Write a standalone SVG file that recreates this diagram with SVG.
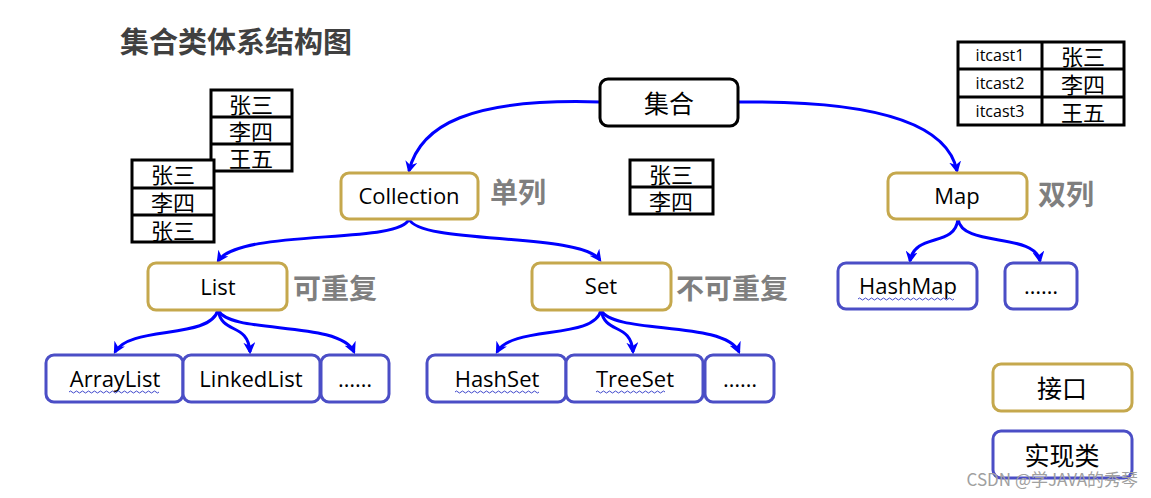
<svg xmlns="http://www.w3.org/2000/svg" width="1151" height="498" viewBox="0 0 1151 498">
<defs>
<marker id="ah" viewBox="0 0 10 10" refX="8" refY="5" markerWidth="4" markerHeight="4" orient="auto" markerUnits="strokeWidth">
<path d="M0,0 L10,5 L0,10 L3,5 Z" fill="#0000FF"/>
</marker>
</defs>
<style>
.cn{font-family:"Noto Sans CJK SC","Noto Sans",sans-serif}
.lat{font-family:"Open Sans","Noto Sans CJK SC",sans-serif}
.tbl rect{fill:#fff;stroke:#000;stroke-width:3}
.tbl line{stroke:#000;stroke-width:3}
.tt{font-family:"Noto Sans CJK SC",sans-serif;font-size:22px;fill:#000;text-anchor:middle;dominant-baseline:central}
.it{font-family:"Open Sans",sans-serif;font-size:16px;fill:#000;text-anchor:middle;dominant-baseline:central}
.root{fill:#fff;stroke:#000;stroke-width:3}
.itf{fill:#fff;stroke:#C5A84D;stroke-width:3}
.imp{fill:#fff;stroke:#4B4EC6;stroke-width:3}
.lbl{font-size:22px;fill:#000;text-anchor:middle;dominant-baseline:central}
.cl{font-size:25px}
.note{font-family:"Noto Sans CJK SC",sans-serif;font-weight:bold;font-size:28px;fill:#7F7F7F;dominant-baseline:central}
.edge{fill:none;stroke:#0000FF;stroke-width:3;marker-end:url(#ah)}
.wavy{fill:none;stroke:#3F48CC;stroke-width:1}
</style>
<rect width="1151" height="498" fill="#fff"/>
<text x="120" y="40" class="cn" font-size="29" font-weight="bold" fill="#404040" dominant-baseline="central">集合类体系结构图</text>

<g id="table1" class="tbl">
<rect x="211" y="90" width="81" height="81"/>
<line x1="211" y1="117" x2="292" y2="117"/><line x1="211" y1="144" x2="292" y2="144"/>
<text x="251" y="103" class="tt">张三</text><text x="251" y="130" class="tt">李四</text><text x="251" y="157" class="tt">王五</text>
</g>
<g id="table2" class="tbl">
<rect x="132" y="160" width="82" height="82"/>
<line x1="132" y1="188" x2="214" y2="188"/><line x1="132" y1="215" x2="214" y2="215"/>
<text x="173" y="173" class="tt">张三</text><text x="173" y="201" class="tt">李四</text><text x="173" y="229" class="tt">张三</text>
</g>
<g id="table3" class="tbl">
<rect x="630" y="160" width="83" height="54"/>
<line x1="630" y1="187" x2="713" y2="187"/>
<text x="671" y="173" class="tt">张三</text><text x="671" y="200" class="tt">李四</text>
</g>
<g id="table4" class="tbl">
<rect x="958" y="42" width="166" height="83"/>
<line x1="1042" y1="42" x2="1042" y2="125"/>
<line x1="958" y1="69" x2="1124" y2="69"/><line x1="958" y1="97" x2="1124" y2="97"/>
<text x="1000" y="55" class="it">itcast1</text><text x="1000" y="83" class="it">itcast2</text><text x="1000" y="111" class="it">itcast3</text>
<text x="1083" y="55" class="tt">张三</text><text x="1083" y="83" class="tt">李四</text><text x="1083" y="111" class="tt">王五</text>
</g>

<g id="connectors">
<path class="edge" d="M600,102 C 470,98 420,125 409,171"/>
<path class="edge" d="M738,102 C 880,100 948,125 957,171"/>
<path class="edge" d="M409,219 C 400,245 240,228 218,261"/>
<path class="edge" d="M409,219 C 420,245 580,232 600,260"/>
<path class="edge" d="M218,310 C 210,340 130,325 115,352"/>
<path class="edge" d="M218,310 C 222,335 248,322 250,352"/>
<path class="edge" d="M218,310 C 230,335 340,320 354,352"/>
<path class="edge" d="M601,310 C 595,340 512,325 497,352"/>
<path class="edge" d="M601,310 C 605,335 631,322 633,352"/>
<path class="edge" d="M601,310 C 613,335 725,320 739,352"/>
<path class="edge" d="M958,219 C 955,248 915,232 910,261"/>
<path class="edge" d="M958,219 C 962,248 1035,232 1040,261"/>
</g>

<g id="n-jihe"><rect class="root" x="600" y="79" width="138" height="47" rx="8"/><text x="669" y="102" class="cn lbl cl">集合</text></g>
<g id="n-collection"><rect class="itf" x="341" y="173" width="137" height="46" rx="8"/><text x="409" y="195" class="lat lbl">Collection</text></g>
<text x="490" y="191" class="note">单列</text>
<g id="n-map"><rect class="itf" x="888" y="173" width="139" height="46" rx="8"/><text x="957" y="195" class="lat lbl">Map</text></g>
<text x="1038" y="193" class="note">双列</text>
<g id="n-list"><rect class="itf" x="148" y="263" width="139" height="47" rx="8"/><text x="218" y="286" class="lat lbl">List</text></g>
<text x="293" y="287" class="note">可重复</text>
<g id="n-set"><rect class="itf" x="532" y="263" width="139" height="47" rx="8"/><text x="601" y="285" class="lat lbl">Set</text></g>
<text x="676" y="287" class="note">不可重复</text>

<g id="n-arraylist"><rect class="imp" x="46" y="355" width="137" height="47" rx="8"/><text x="115" y="378" class="lat lbl">ArrayList</text>
<path class="wavy" d="M69,392 q1.5,-2 3,0 t3,0 t3,0 t3,0 t3,0 t3,0 t3,0 t3,0 t3,0 t3,0 t3,0 t3,0 t3,0 t3,0 t3,0 t3,0 t3,0 t3,0 t3,0 t3,0 t3,0 t3,0 t3,0 t3,0 t3,0 t3,0 t3,0 t3,0 t3,0 t3,0"/></g>
<g id="n-linkedlist"><rect class="imp" x="183" y="355" width="137" height="47" rx="8"/><text x="251" y="378" class="lat lbl">LinkedList</text></g>
<g id="n-more1"><rect class="imp" x="321" y="355" width="68" height="47" rx="8"/><text x="355" y="378" class="lat lbl">……</text></g>
<g id="n-hashset"><rect class="imp" x="427" y="355" width="139" height="47" rx="8"/><text x="497" y="378" class="lat lbl">HashSet</text>
<path class="wavy" d="M455,392 q1.5,-2 3,0 t3,0 t3,0 t3,0 t3,0 t3,0 t3,0 t3,0 t3,0 t3,0 t3,0 t3,0 t3,0 t3,0 t3,0 t3,0 t3,0 t3,0 t3,0 t3,0 t3,0 t3,0 t3,0 t3,0 t3,0 t3,0 t3,0 t3,0"/></g>
<g id="n-treeset"><rect class="imp" x="566" y="355" width="137" height="47" rx="8"/><text x="635" y="378" class="lat lbl">TreeSet</text>
<path class="wavy" d="M596,392 q1.5,-2 3,0 t3,0 t3,0 t3,0 t3,0 t3,0 t3,0 t3,0 t3,0 t3,0 t3,0 t3,0 t3,0 t3,0 t3,0 t3,0 t3,0 t3,0 t3,0 t3,0 t3,0 t3,0 t3,0"/></g>
<g id="n-more2"><rect class="imp" x="705" y="355" width="69" height="47" rx="8"/><text x="740" y="378" class="lat lbl">……</text></g>
<g id="n-hashmap"><rect class="imp" x="838" y="263" width="139" height="46" rx="8"/><text x="908" y="285" class="lat lbl">HashMap</text>
<path class="wavy" d="M858,299 q1.5,-2 3,0 t3,0 t3,0 t3,0 t3,0 t3,0 t3,0 t3,0 t3,0 t3,0 t3,0 t3,0 t3,0 t3,0 t3,0 t3,0 t3,0 t3,0 t3,0 t3,0 t3,0 t3,0 t3,0 t3,0 t3,0 t3,0 t3,0 t3,0 t3,0 t3,0 t3,0 t3,0"/></g>
<g id="n-more3"><rect class="imp" x="1005" y="263" width="72" height="46" rx="8"/><text x="1041" y="285" class="lat lbl">……</text></g>

<g id="legend-interface"><rect class="itf" x="993" y="364" width="139" height="47" rx="8"/><text x="1062" y="387" class="cn lbl cl">接口</text></g>
<g id="legend-impl"><rect class="imp" x="993" y="431" width="139" height="47" rx="8"/><text x="1062" y="454" class="cn lbl cl">实现类</text></g>
<text x="1138" y="478" text-anchor="end" font-family="Noto Sans CJK SC,sans-serif" font-size="17" fill="#A0A0A0" dominant-baseline="central">CSDN @学JAVA的秀琴</text>
</svg>
